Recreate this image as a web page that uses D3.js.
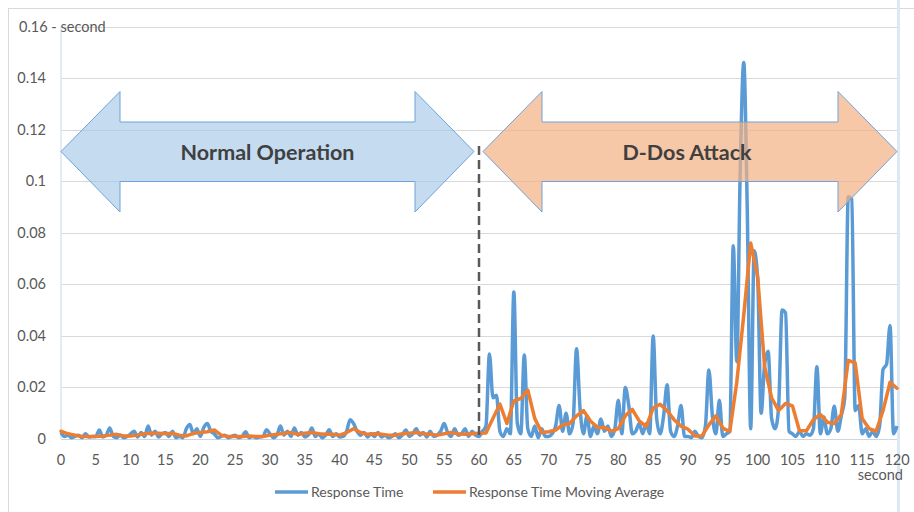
<!DOCTYPE html>
<html>
<head>
<meta charset="utf-8">
<script src="https://cdn.jsdelivr.net/npm/d3@7"></script>
<style>
	body { margin: 0; background: #fff; }
	text { font-family: Lato, "Open Sans", sans-serif; fill: #595959; }
</style>
</head>
<body>
<svg id="chart" width="914" height="512"></svg>
<script>
// response time, one value every 0.5 s (seconds)
const responseTime = [
	// 0 - 4.5
	0.0025, 0.001, 0.0015, 0.0005, 0.001, 0.0015, 0.0005, 0.002, 0.0008, 0.001,
	// 5 - 9.5
	0.001, 0.0035, 0.0008, 0.0015, 0.0043, 0.001, 0.0005, 0.0015, 0.0005, 0.001,
	// 10 - 14.5
	0.002, 0.003, 0.0008, 0.0025, 0.001, 0.005, 0.0015, 0.003, 0.0008, 0.002,
	// 15 - 19.5
	0.0025, 0.001, 0.003, 0.0005, 0.001, 0.0005, 0.004, 0.0056, 0.002, 0.004,
	// 20 - 24.5
	0.001, 0.0045, 0.006, 0.003, 0.002, 0.0005, 0.001, 0.0015, 0.0005, 0.001,
	// 25 - 29.5
	0.0015, 0.0005, 0.001, 0.0028, 0.0005, 0.001, 0.0005, 0.0008, 0.001, 0.0036,
	// 30 - 34.5
	0.002, 0.0005, 0.0015, 0.005, 0.0015, 0.003, 0.001, 0.0043, 0.0015, 0.0025,
	// 35 - 39.5
	0.0008, 0.0015, 0.0043, 0.001, 0.002, 0.0005, 0.0015, 0.0036, 0.001, 0.002,
	// 40 - 44.5
	0.0008, 0.001, 0.003, 0.0075, 0.006, 0.003, 0.0015, 0.0025, 0.0008, 0.002,
	// 45 - 49.5
	0.001, 0.0025, 0.0008, 0.0015, 0.0005, 0.001, 0.002, 0.0005, 0.0015, 0.0035,
	// 50 - 54.5
	0.001, 0.002, 0.004, 0.0015, 0.0025, 0.0008, 0.003, 0.001, 0.0015, 0.003,
	// 55 - 59.5
	0.006, 0.0025, 0.001, 0.004, 0.0015, 0.002, 0.004, 0.001, 0.003, 0.0015,
	// 60 - 64.5
	0.001, 0.003, 0.005, 0.033, 0.016, 0.017, 0.003, 0.001, 0.004, 0.002,
	// 65 - 69.5
	0.057, 0.006, 0.002, 0.0326, 0.004, 0.001, 0.005, 0.0005, 0.004, 0.001,
	// 70 - 74.5
	0.001, 0.002, 0.005, 0.013, 0.003, 0.01, 0.002, 0.006, 0.035, 0.012,
	// 75 - 79.5
	0.002, 0.009, 0.001, 0.005, 0.002, 0.0078, 0.003, 0.005, 0.001, 0.004,
	// 80 - 84.5
	0.015, 0.002, 0.020, 0.013, 0.002, 0.003, 0.006, 0.002, 0.006, 0.002,
	// 85 - 89.5
	0.040, 0.008, 0.002, 0.009, 0.021, 0.003, 0.001, 0.005, 0.013, 0.001,
	// 90 - 94.5
	0.001, 0.0005, 0.003, 0.001, 0.0005, 0.005, 0.0268, 0.009, 0.002, 0.015,
	// 95 - 99.5
	0.001, 0.002, 0.003, 0.075, 0.03, 0.105, 0.146, 0.09, 0.004, 0.073,
	// 100 - 104.5
	0.062, 0.01, 0.029, 0.034, 0.008, 0.004, 0.012, 0.050, 0.049, 0.003,
	// 105 - 109.5
	0.002, 0.001, 0.003, 0.001, 0.002, 0.0015, 0.004, 0.028, 0.002, 0.0085,
	// 110 - 114.5
	0.002, 0.004, 0.0127, 0.003, 0.009, 0.016, 0.094, 0.093, 0.011, 0.013,
	// 115 - 119.5
	0.002, 0.004, 0.001, 0.003, 0.001, 0.005, 0.027, 0.029, 0.044, 0.002,
	// 120
	0.005
];
const responseStep = 0.5;

// moving average, one value per second
const movingAverage = [
	0.003, 0.002, 0.0015, 0.001, 0.001, 0.001, 0.0012, 0.0015, 0.0018, 0.0012,
	0.0012, 0.0015, 0.002, 0.0022, 0.0022, 0.002, 0.0022, 0.0015, 0.0012, 0.0022,
	0.0025, 0.0028, 0.0035, 0.0015, 0.001, 0.001, 0.001, 0.0012, 0.001, 0.001,
	0.0015, 0.0018, 0.0022, 0.0025, 0.0018, 0.0022, 0.0025, 0.002, 0.0018, 0.0018,
	0.0015, 0.0025, 0.004, 0.0025, 0.0018, 0.002, 0.0018, 0.0015, 0.0015, 0.002,
	0.0022, 0.0025, 0.002, 0.0018, 0.0015, 0.002, 0.0025, 0.002, 0.0018, 0.002,
	0.0022, 0.0023, 0.008, 0.0135, 0.006, 0.0148, 0.0157, 0.019, 0.008, 0.0025,
	0.0028, 0.0035, 0.0055, 0.006, 0.009, 0.011, 0.007, 0.0045, 0.0045, 0.003,
	0.004, 0.009, 0.0115, 0.007, 0.0048, 0.012, 0.0135, 0.011, 0.0075, 0.005,
	0.0038, 0.0012, 0.0012, 0.0055, 0.009, 0.0042, 0.0029, 0.022, 0.048, 0.076,
	0.063, 0.028, 0.016, 0.011, 0.0138, 0.0128, 0.0032, 0.0032, 0.0075, 0.0095,
	0.0065, 0.006, 0.0095, 0.0305, 0.0295, 0.008, 0.004, 0.003, 0.011, 0.022,
	0.0197
];

const xTicks = d3.range(0, 121, 5);
const yTicks = [0, 0.02, 0.04, 0.06, 0.08, 0.1, 0.12, 0.14];
const yTopLabel = "0.16 - second";
const xTitle = "second";
const attackStart = 60;
const phases = [
	{ label: "Normal Operation", from: 0, to: 60 },
	{ label: "D-Dos Attack", from: 60, to: 120 }
];
const legendItems = [
	{ label: "Response Time", color: "#5b9bd5" },
	{ label: "Response Time Moving Average", color: "#ed7d31" }
];

const svg = d3.select("#chart");

const x = d3.scaleLinear().domain([0, 120]).range([61, 897]);
const y = d3.scaleLinear().domain([0, 0.16]).range([439, 26.5]);

// outer chart frame
svg.append("rect")
	.attr("x", 8.5).attr("y", 8.5)
	.attr("width", 930).attr("height", 530)
	.attr("fill", "none").attr("stroke", "#d9d9d9");

// gridlines
svg.append("g")
	.selectAll("line")
	.data(yTicks.slice(1).concat([0.16]))
	.join("line")
	.attr("x1", x(0)).attr("x2", x(120))
	.attr("y1", d => Math.round(y(d)) + 0.5).attr("y2", d => Math.round(y(d)) + 0.5)
	.attr("stroke", "#d9d9d9");

// axis line + plot edges
svg.append("line")
	.attr("x1", x(0)).attr("x2", x(120))
	.attr("y1", y(0) + 0.5).attr("y2", y(0) + 0.5)
	.attr("stroke", "#d0d5dc");
svg.append("line")
	.attr("x1", x(0)).attr("x2", x(0))
	.attr("y1", y(0.16)).attr("y2", y(0))
	.attr("stroke", "#dbe5f1").attr("stroke-width", 1.5);
svg.append("line")
	.attr("x1", x(120) + 1.5).attr("x2", x(120) + 1.5)
	.attr("y1", 0).attr("y2", 512)
	.attr("stroke", "#dde8f4").attr("stroke-width", 3);

// y labels
svg.append("g")
	.selectAll("text")
	.data(yTicks)
	.join("text")
	.attr("x", 46).attr("y", d => y(d) + 5)
	.attr("text-anchor", "end")
	.attr("font-size", 14.5)
	.text(d => String(d));
svg.append("text")
	.attr("x", 19).attr("y", y(0.16) + 5)
	.attr("font-size", 14.5)
	.text(yTopLabel);

// x labels
svg.append("g")
	.selectAll("text")
	.data(xTicks)
	.join("text")
	.attr("x", d => x(d)).attr("y", 465)
	.attr("text-anchor", "middle")
	.attr("font-size", 14.5)
	.text(d => d);
svg.append("text")
	.attr("x", 903).attr("y", 480)
	.attr("text-anchor", "end")
	.attr("font-size", 14.5)
	.text(xTitle);

// series
const respLine = d3.line()
	.x((d, i) => x(i * responseStep))
	.y(d => y(d))
	.curve(d3.curveMonotoneX);
const avgLine = d3.line()
	.x((d, i) => x(i))
	.y(d => y(d));

svg.append("path")
	.datum(responseTime)
	.attr("d", respLine)
	.attr("fill", "none")
	.attr("stroke", legendItems[0].color)
	.attr("stroke-width", 3.5)
	.attr("stroke-linejoin", "round");
svg.append("path")
	.datum(movingAverage)
	.attr("d", avgLine)
	.attr("fill", "none")
	.attr("stroke", legendItems[1].color)
	.attr("stroke-width", 3.5)
	.attr("stroke-linejoin", "round")
	.attr("stroke-linecap", "round");

// phase arrows
const arrowFills = ["rgba(157,195,230,0.6)", "rgba(244,177,131,0.7)"];
const headLen = 59, yc = 151.5, headTop = 91.5, headBot = 212, shaftTop = 122, shaftBot = 181.5;
const arrowPts = (x0, x1) => [
	[x0, yc], [x0 + headLen, headTop], [x0 + headLen, shaftTop], [x1 - headLen, shaftTop],
	[x1 - headLen, headTop], [x1, yc], [x1 - headLen, headBot], [x1 - headLen, shaftBot],
	[x0 + headLen, shaftBot], [x0 + headLen, headBot]
];
phases.forEach((p, i) => {
	const x0 = i === 0 ? x(p.from) : x(p.from) + 4;
	const x1 = i === 0 ? x(p.to) - 5 : x(p.to);
	svg.append("polygon")
		.attr("points", arrowPts(x0, x1).map(q => q.join(",")).join(" "))
		.attr("fill", arrowFills[i])
		.attr("stroke", "#6fa3d9")
		.attr("stroke-width", 1);
	svg.append("text")
		.attr("x", (x0 + x1) / 2 - (i === 0 ? 0 : 3)).attr("y", yc + 8.5)
		.attr("text-anchor", "middle")
		.attr("font-size", 21.5)
		.attr("font-weight", "bold")
		.style("fill", "#404040")
		.text(p.label);
});

// attack start marker
svg.append("line")
	.attr("x1", x(attackStart)).attr("x2", x(attackStart))
	.attr("y1", 146).attr("y2", y(0))
	.attr("stroke", "#595959")
	.attr("stroke-width", 2.5)
	.attr("stroke-dasharray", "9,5");

// legend
const legendX = [275, 433];
legendItems.forEach((d, i) => {
	svg.append("line")
		.attr("x1", legendX[i]).attr("x2", legendX[i] + 33)
		.attr("y1", 492).attr("y2", 492)
		.attr("stroke", d.color).attr("stroke-width", 3.5);
	svg.append("text")
		.attr("x", legendX[i] + 36).attr("y", 497)
		.attr("font-size", 14)
		.text(d.label);
});
</script>
</body>
</html>
